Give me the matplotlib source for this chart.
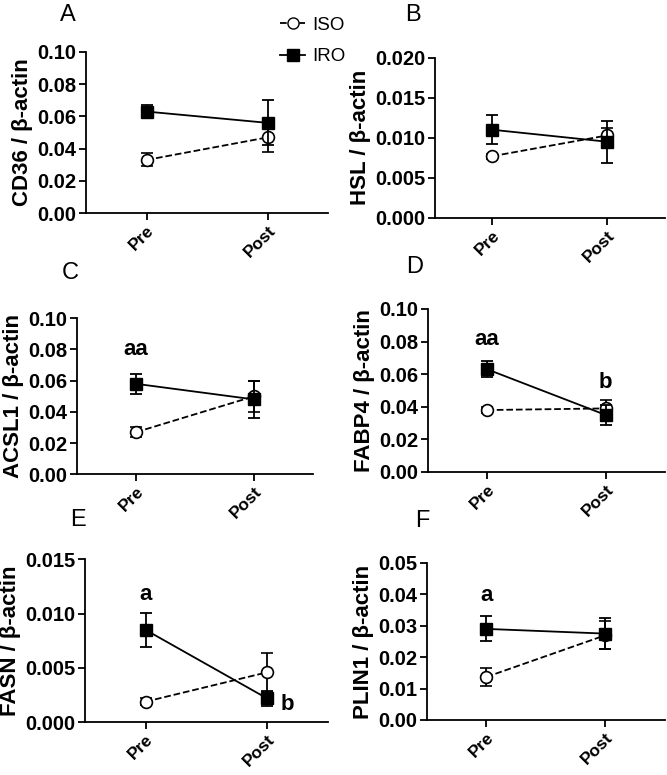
import numpy as np
import matplotlib.pyplot as plt
from matplotlib.lines import Line2D

# time points
times = ['Pre', 'Post']

# panel order A-F
panels = ['A', 'B', 'C', 'D', 'E', 'F']
genes = ['CD36', 'HSL', 'ACSL1', 'FABP4', 'FASN', 'PLIN1']

# means and SEM
iso_mean = [[0.033, 0.047], [0.0077, 0.0103], [0.027, 0.050],
            [0.038, 0.039], [0.0019, 0.0046], [0.0137, 0.027]]
iso_err = [[0.004, 0.009], [0.0003, 0.0009], [0.003, 0.010],
           [0.002, 0.005], [0.0003, 0.0018], [0.003, 0.0045]]
iro_mean = [[0.063, 0.056], [0.011, 0.0095], [0.058, 0.048],
            [0.063, 0.035], [0.0085, 0.0022], [0.029, 0.0275]]
iro_err = [[0.004, 0.014], [0.0018, 0.0026], [0.0065, 0.012],
           [0.005, 0.006], [0.0016, 0.0007], [0.004, 0.005]]

ymax = [0.10, 0.020, 0.10, 0.10, 0.015, 0.05]
ystep = [0.02, 0.005, 0.02, 0.02, 0.005, 0.01]
yfmt = ['%.2f', '%.3f', '%.2f', '%.2f', '%.3f', '%.2f']

# significance letters: (panel, time index, text, y, x offset)
sig = [(2, 0, 'aa', 0.080, 0), (3, 0, 'aa', 0.081, 0), (3, 1, 'b', 0.055, 0),
       (4, 0, 'a', 0.0118, 0), (4, 1, 'b', 0.0016, 0.11), (5, 0, 'a', 0.0395, 0)]

# axes rectangles in figure fraction
rects = [[0.129, 0.725, 0.363, 0.208],
         [0.652, 0.719, 0.345, 0.2065],
         [0.1154, 0.388, 0.354, 0.2013],
         [0.6417, 0.391, 0.355, 0.2103],
         [0.1274, 0.068, 0.364, 0.2103],
         [0.640, 0.071, 0.357, 0.2026]]
# panel letter positions (axes fraction)
letter_pos = [(-0.075, 1.23), (-0.095, 1.27), (-0.03, 1.29),
              (-0.055, 1.26), (-0.03, 1.24), (-0.02, 1.27)]

plt.rcParams['font.family'] = 'Liberation Sans'

fig = plt.figure(figsize=(6.67, 7.75), dpi=100)
x = np.arange(len(times))

for i in range(6):
    ax = fig.add_axes(rects[i])
    ax.errorbar(x, iso_mean[i], yerr=iso_err[i], color='black', ls='--',
                lw=1.3, marker='o', mfc='white', mec='black', ms=8.5, mew=1.2,
                capsize=4, elinewidth=1.3, capthick=1.3, zorder=3)
    ax.errorbar(x, iro_mean[i], yerr=iro_err[i], color='black', ls='-',
                lw=1.3, marker='s', mfc='black', mec='black', ms=8.5,
                capsize=4, elinewidth=1.3, capthick=1.3, zorder=4)
    ax.set_xlim(-0.5, 1.5)
    ax.set_ylim(0, ymax[i])
    ax.set_yticks(np.arange(0, ymax[i] + ystep[i] / 2, ystep[i]))
    ax.set_yticklabels([yfmt[i] % v for v in ax.get_yticks()],
                       fontsize=14.5, fontweight='bold')
    ax.set_xticks(x)
    ax.set_xticklabels(times, rotation=45, ha='right', rotation_mode='anchor',
                       fontsize=12.5, fontweight='bold')
    ax.spines['top'].set_visible(False)
    ax.spines['right'].set_visible(False)
    ax.spines['left'].set_linewidth(1.3)
    ax.spines['bottom'].set_linewidth(1.3)
    ax.tick_params(direction='out', length=5, width=1.3, pad=2)
    ax.set_ylabel(genes[i] + ' / \u03b2-actin', fontsize=16, fontweight='bold',
                  labelpad=3)
    ax.text(letter_pos[i][0], letter_pos[i][1], panels[i],
            transform=ax.transAxes, fontsize=17, ha='center', va='center')

for p, t, s, yv, dx in sig:
    ax = fig.axes[p]
    ha = 'left' if dx else 'center'
    ax.text(t + dx, yv, s, fontsize=16, fontweight='bold', ha=ha, va='center')

handles = [Line2D([], [], color='black', ls='--', marker='o', mfc='white',
                  mec='black', ms=8, lw=1.3),
           Line2D([], [], color='black', ls='-', marker='s', mfc='black',
                  ms=8, lw=1.3)]
fig.legend(handles, ['ISO', 'IRO'], loc='upper left',
           bbox_to_anchor=(0.395, 1.0), frameon=False, fontsize=13.5,
           handlelength=1.3, handletextpad=0.4, labelspacing=0.75)

fig.savefig('out.png', dpi=100)
